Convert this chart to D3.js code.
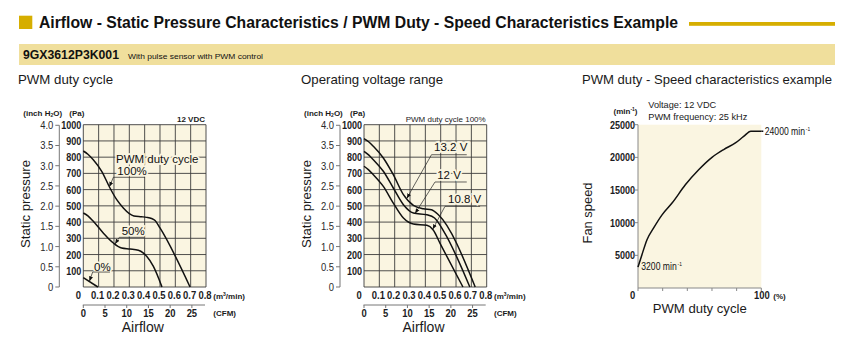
<!DOCTYPE html>
<html lang="en">
<head>
<meta charset="UTF-8">
<title>9GX3612P3K001 characteristics</title>
<script src="https://d3js.org/d3.v7.min.js"></script>
<style>
    body { margin: 0; background: #fff; }
    svg { display: block; font-family: "Liberation Sans", Arial, sans-serif; }
    .num { font-weight: bold; font-size: 11px; fill: #1b1b22; }
    .inch { font-size: 11px; fill: #2a2a2a; }
    .small { font-size: 8px; font-weight: bold; fill: #1b1b1b; }
</style>
</head>
<body>
<div id="container"></div>
<script>
// tick values
const flowTicks = [0, 0.1, 0.2, 0.3, 0.4, 0.5, 0.6, 0.7, 0.8];   // m3/min
const cfmTicks = [0, 5, 10, 15, 20, 25];
const paTicks = [100, 200, 300, 400, 500, 600, 700, 800, 900, 1000];
const inchTicks = [0, 0.5, 1.0, 1.5, 2.0, 2.5, 3.0, 3.5, 4.0];
const speedTicks = [5000, 10000, 15000, 20000, 25000];
const dutyTicks = [0, 20, 40, 60, 80, 100];

// PWM duty cycle curves [m3/min, Pa]
const pwm100 = [[0, 838], [0.03, 818], [0.065, 784], [0.12, 713], [0.174, 610], [0.218, 538], [0.261, 487],
    [0.3, 452], [0.33, 438], [0.38, 433], [0.413, 429], [0.445, 422], [0.468, 410], [0.5, 364], [0.696, 0]];
const pwm50 = [[0, 456], [0.03, 438], [0.065, 405], [0.13, 333], [0.196, 271], [0.25, 240], [0.305, 234],
    [0.359, 226], [0.39, 210], [0.413, 189], [0.457, 127], [0.513, 0]];
const pwm0 = [[0, 58], [0.095, 0]];

// operating voltage curves [m3/min, Pa]
const v132 = [[0, 914], [0.03, 895], [0.061, 867], [0.126, 795], [0.191, 692], [0.257, 569], [0.322, 503],
    [0.387, 482], [0.44, 476], [0.485, 445], [0.725, 0]];
const v120 = [[0, 836], [0.03, 814], [0.061, 784], [0.126, 713], [0.191, 610], [0.257, 507], [0.322, 456],
    [0.41, 445], [0.46, 425], [0.52, 343], [0.69, 0]];
const v108 = [[0, 744], [0.03, 722], [0.061, 692], [0.126, 620], [0.191, 517], [0.257, 425], [0.322, 388],
    [0.41, 380], [0.45, 353], [0.5, 261], [0.645, 0]];

// PWM duty - speed
const dutyPct = [0, 3.2, 7.3, 12.7, 19.5, 27.6, 38.4, 49.2, 60, 69.5, 79, 85.7, 91.5, 100];
const fanRpm = [3200, 5100, 7400, 9200, 11200, 13000, 15800, 18100, 20000, 21200, 22200, 23200, 24000, 24000];

const W = 861, H = 351;
const gold = '#d6ae00', band = '#f0df9c', plotBg = '#faf5e1';
const plotTop = 124.7, plotBottom = 287, plotW = 122.7;
const paPerInch = 249.09, cfmPerM3 = 35.315;

// narrow-font look: squeeze text to Arial Narrow-like widths
const narrowEm = { '.': 0.228, ' ': 0.228, 'm': 0.729, 'i': 0.182, 'n': 0.456 };
function narrowLen(str, size) {
    let w = 0;
    for (const c of String(str)) w += narrowEm[c] !== undefined ? narrowEm[c] : 0.456;
    return w * size;
}
function narrow(sel, size) {
    sel.attr('textLength', function () { return narrowLen(d3.select(this).text(), size); })
        .attr('lengthAdjust', 'spacingAndGlyphs');
}

const svg = d3.select('#container').append('svg').attr('width', W).attr('height', H);
svg.append('rect').attr('width', W).attr('height', H).attr('fill', '#fff');

svg.append('defs').append('marker')
    .attr('id', 'arr').attr('viewBox', '0 0 10 10').attr('refX', 10).attr('refY', 5)
    .attr('markerWidth', 5).attr('markerHeight', 5).attr('markerUnits', 'userSpaceOnUse')
    .attr('orient', 'auto')
    .append('path').attr('d', 'M0,1 L10,5 L0,9 z').attr('fill', '#111');

// header
svg.append('rect').attr('x', 19).attr('y', 15.7).attr('width', 13.3).attr('height', 13.3).attr('fill', gold);
svg.append('text').attr('x', 39).attr('y', 27.7)
    .attr('font-size', 16).attr('font-weight', 'bold').attr('fill', '#111')
    .attr('textLength', 639).attr('lengthAdjust', 'spacingAndGlyphs')
    .text('Airflow - Static Pressure Characteristics / PWM Duty - Speed Characteristics Example');
svg.append('rect').attr('x', 689).attr('y', 22).attr('width', 146).attr('height', 3.8).attr('fill', gold);
svg.append('rect').attr('x', 19).attr('y', 44).attr('width', 816).attr('height', 21).attr('fill', band);
svg.append('text').attr('x', 23).attr('y', 59.3).attr('font-size', 12.5).attr('font-weight', 'bold')
    .attr('fill', '#111').attr('textLength', 96).attr('lengthAdjust', 'spacingAndGlyphs').text('9GX3612P3K001');
svg.append('text').attr('x', 128).attr('y', 59).attr('font-size', 8).attr('fill', '#111')
    .attr('textLength', 135).attr('lengthAdjust', 'spacingAndGlyphs').text('With pulse sensor with PWM control');

// section titles
function title(x, y, txt, len, size) {
    svg.append('text').attr('x', x).attr('y', y).attr('font-size', size || 13).attr('fill', '#1a1a1a')
        .attr('textLength', len).attr('lengthAdjust', 'spacingAndGlyphs').text(txt);
}
title(18, 84, 'PWM duty cycle', 95);
title(301, 84, 'Operating voltage range', 142);
title(582, 84, 'PWM duty - Speed characteristics example', 250);

// airflow - static pressure chart
function pqChart(x0, curves, notes, corner) {
    const g = svg.append('g');
    const x = d3.scaleLinear().domain([0, 0.8]).range([x0, x0 + plotW]);
    const y = d3.scaleLinear().domain([0, 1000]).range([plotBottom, plotTop]);

    g.append('rect').attr('x', x(0)).attr('y', y(1000)).attr('width', x(0.8) - x(0))
        .attr('height', y(0) - y(1000)).attr('fill', plotBg);

    g.selectAll('.vg').data(flowTicks).enter().append('line')
        .attr('x1', d => x(d)).attr('x2', d => x(d)).attr('y1', y(0)).attr('y2', y(1000))
        .attr('stroke', '#3c3c3c').attr('stroke-width', 0.9);
    g.selectAll('.hg').data([0].concat(paTicks)).enter().append('line')
        .attr('x1', x(0)).attr('x2', x(0.8)).attr('y1', d => y(d)).attr('y2', d => y(d))
        .attr('stroke', '#3c3c3c').attr('stroke-width', 0.9);

    // Pa labels
    g.selectAll('.pa').data(paTicks).enter().append('text').attr('class', 'num')
        .attr('x', x0 - 2).attr('y', d => y(d)).attr('dy', '0.36em').attr('text-anchor', 'end')
        .text(d => d).call(narrow, 11);

    // inch H2O axis
    const ax = x0 - 24;
    g.append('line').attr('x1', ax).attr('x2', ax).attr('y1', y(0)).attr('y2', y(4 * paPerInch))
        .attr('stroke', '#777').attr('stroke-width', 1);
    g.selectAll('.it').data(inchTicks).enter().append('line')
        .attr('x1', ax - 4).attr('x2', ax).attr('y1', d => y(d * paPerInch)).attr('y2', d => y(d * paPerInch))
        .attr('stroke', '#777').attr('stroke-width', 1);
    g.selectAll('.il').data(inchTicks).enter().append('text').attr('class', 'inch')
        .attr('x', x0 - 30).attr('y', d => y(d * paPerInch)).attr('dy', '0.36em').attr('text-anchor', 'end')
        .text(d => d === 0 ? '0' : d.toFixed(1)).call(narrow, 11.5);

    const u = g.append('text').attr('class', 'small').attr('x', x0 - 60).attr('y', 116);
    u.append('tspan').text('(inch H');
    u.append('tspan').attr('font-size', 5).attr('dy', 1).text('2');
    u.append('tspan').attr('dy', -1).text('O)');
    g.append('text').attr('class', 'small').attr('x', x0 - 14).attr('y', 116).text('(Pa)');

    g.append('text').attr('transform', `translate(${x0 - 53},204) rotate(-90)`)
        .attr('text-anchor', 'middle').attr('font-size', 13.5).attr('fill', '#1a1a1a')
        .attr('textLength', 88).attr('lengthAdjust', 'spacingAndGlyphs').text('Static pressure');

    // m3/min labels
    g.selectAll('.fl').data(flowTicks).enter().append('text').attr('class', 'num')
        .attr('x', d => d === 0 ? x(d) - 5 : x(d) - 1).attr('y', 299.3).attr('text-anchor', 'middle')
        .text(d => d === 0 ? '0' : d.toFixed(1)).call(narrow, 11.5);
    const m = g.append('text').attr('class', 'small').attr('x', x0 + 130).attr('y', 299);
    m.append('tspan').text('(m');
    m.append('tspan').attr('font-size', 5).attr('dy', -3).text('3');
    m.append('tspan').attr('dy', 3).text('/min)');

    // CFM axis
    const cy = 305;
    g.append('line').attr('x1', x(0) - 0.5).attr('x2', x(0.8) - 1).attr('y1', cy).attr('y2', cy)
        .attr('stroke', '#777').attr('stroke-width', 1);
    g.selectAll('.ct').data(cfmTicks).enter().append('line')
        .attr('x1', d => x(d / cfmPerM3)).attr('x2', d => x(d / cfmPerM3)).attr('y1', cy).attr('y2', cy + 3)
        .attr('stroke', '#777').attr('stroke-width', 1);
    g.selectAll('.cl').data(cfmTicks).enter().append('text').attr('class', 'num')
        .attr('x', d => x(d / cfmPerM3)).attr('y', 316.5).attr('text-anchor', 'middle')
        .text(d => d).call(narrow, 11.5);
    g.append('text').attr('class', 'small').attr('x', x0 + 130).attr('y', 316).text('(CFM)');

    g.append('text').attr('x', x0 + 59.5).attr('y', 331.7).attr('text-anchor', 'middle')
        .attr('font-size', 14).attr('fill', '#1a1a1a').text('Airflow');

    g.append('text').attr('x', x(0.8) - 1).attr('y', 121.7).attr('text-anchor', 'end')
        .attr('font-size', 8).attr('font-weight', corner.bold ? 'bold' : 'normal').attr('fill', '#1b1b1b')
        .text(corner.text);

    // curves
    const line = d3.line().x(d => x(d[0])).y(d => y(d[1])).curve(d3.curveMonotoneX);
    g.selectAll('.curve').data(curves).enter().append('path')
        .attr('d', d => line(d)).attr('fill', 'none').attr('stroke', '#111').attr('stroke-width', 1.5);

    // labels with leaders
    notes.forEach(n => {
        g.append('text').attr('x', x(n.at[0])).attr('y', y(n.at[1]))
            .attr('font-size', 11.5).attr('fill', '#111')
            .attr('stroke', plotBg).attr('stroke-width', 3.5).attr('paint-order', 'stroke')
            .text(n.text);
        if (n.lead) {
            g.append('path').attr('d', d3.line().x(d => x(d[0])).y(d => y(d[1]))(n.lead))
                .attr('fill', 'none').attr('stroke', '#222').attr('stroke-width', 0.7)
                .attr('marker-end', 'url(#arr)');
        }
    });
}

pqChart(83.3, [pwm100, pwm50, pwm0], [
    { text: 'PWM duty cycle', at: [0.213, 764] },
    { text: '100%', at: [0.222, 690], lead: [[0.402, 676], [0.196, 676], [0.17, 617]] },
    { text: '50%', at: [0.25, 318], lead: [[0.396, 306], [0.235, 306], [0.207, 265]] },
    { text: '0%', at: [0.07, 100], lead: [[0.174, 92], [0.061, 92], [0.04, 35]] }
], { text: '12 VDC', bold: true });

pqChart(364, [v132, v120, v108], [
    { text: '13.2 V', at: [0.457, 836], lead: [[0.67, 815], [0.44, 815], [0.279, 546]] },
    { text: '12 V', at: [0.477, 665], lead: [[0.67, 647], [0.463, 647], [0.333, 453]] },
    { text: '10.8 V', at: [0.548, 518], lead: [[0.757, 497], [0.528, 497], [0.448, 356]] }
], { text: 'PWM duty cycle 100%', bold: false });

// PWM duty - speed chart
(function () {
    const g = svg.append('g');
    const x = d3.scaleLinear().domain([0, 100]).range([638, 761.3]);
    const y = d3.scaleLinear().domain([0, 25000]).range([288, 124.7]);

    g.append('rect').attr('x', x(0)).attr('y', y(25000)).attr('width', x(100) - x(0))
        .attr('height', y(0) - y(25000)).attr('fill', plotBg);
    g.append('line').attr('x1', x(0)).attr('x2', x(0)).attr('y1', y(0)).attr('y2', y(25000))
        .attr('stroke', '#888').attr('stroke-width', 1);
    g.append('line').attr('x1', x(0)).attr('x2', x(100)).attr('y1', y(0)).attr('y2', y(0))
        .attr('stroke', '#888').attr('stroke-width', 1);
    g.selectAll('.yt').data(speedTicks).enter().append('line')
        .attr('x1', x(0) - 3).attr('x2', x(0)).attr('y1', d => y(d)).attr('y2', d => y(d))
        .attr('stroke', '#888').attr('stroke-width', 1);
    g.selectAll('.xt').data(dutyTicks).enter().append('line')
        .attr('x1', d => x(d)).attr('x2', d => x(d)).attr('y1', y(0)).attr('y2', y(0) + 3)
        .attr('stroke', '#888').attr('stroke-width', 1);

    g.selectAll('.yl').data(speedTicks).enter().append('text').attr('class', 'num')
        .attr('x', x(0) - 3).attr('y', d => y(d)).attr('dy', '0.36em').attr('text-anchor', 'end')
        .text(d => d).call(narrow, 11);
    g.selectAll('.xl').data([0, 100]).enter().append('text').attr('class', 'num')
        .attr('x', d => d === 0 ? x(d) - 5.5 : x(d) + 0.5).attr('y', 299).attr('text-anchor', 'middle')
        .text(d => d).call(narrow, 11.5);
    g.append('text').attr('class', 'small').attr('x', x(100) + 12).attr('y', 299).attr('font-size', 7).text('(%)');

    const mu = g.append('text').attr('class', 'small').attr('x', 613.5).attr('y', 114.3);
    mu.append('tspan').text('(min');
    mu.append('tspan').attr('font-size', 5).attr('dy', -3).text('-1');
    mu.append('tspan').attr('dy', 3).text(')');

    g.append('text').attr('x', 648.3).attr('y', 108.3).attr('font-size', 9.2).attr('fill', '#1a1a1a').text('Voltage: 12 VDC');
    g.append('text').attr('x', 648.3).attr('y', 120).attr('font-size', 9.2).attr('fill', '#1a1a1a').text('PWM frequency: 25 kHz');

    g.append('text').attr('transform', 'translate(592,213) rotate(-90)').attr('text-anchor', 'middle')
        .attr('font-size', 13.5).attr('fill', '#1a1a1a').attr('textLength', 61)
        .attr('lengthAdjust', 'spacingAndGlyphs').text('Fan speed');
    g.append('text').attr('x', 699.7).attr('y', 313.3).attr('text-anchor', 'middle')
        .attr('font-size', 13).attr('fill', '#1a1a1a').attr('textLength', 94)
        .attr('lengthAdjust', 'spacingAndGlyphs').text('PWM duty cycle');

    const pts = dutyPct.map((d, i) => [d, fanRpm[i]]);
    g.append('path')
        .attr('d', d3.line().x(d => x(d[0])).y(d => y(d[1])).curve(d3.curveMonotoneX)(pts))
        .attr('fill', 'none').attr('stroke', '#111').attr('stroke-width', 1.5);
    // flat tail out to the 24000 label
    g.append('line').attr('x1', x(100)).attr('x2', x(100) + 2).attr('y1', y(24000)).attr('y2', y(24000))
        .attr('stroke', '#111').attr('stroke-width', 1.5);

    // "xxxx min-1", squeezed horizontally to look condensed
    function rpmLabel(px, py, val) {
        const t = g.append('text').attr('transform', `translate(${px},${py}) scale(0.82,1)`).attr('fill', '#111');
        t.append('tspan').attr('font-size', 10.5).text(val + ' min');
        t.append('tspan').attr('font-size', 6).attr('dx', 1).attr('dy', -4).text('-1');
    }
    rpmLabel(x(100) + 3.5, y(24000) + 3.8, fanRpm[fanRpm.length - 1]);
    rpmLabel(x(0) + 3.3, y(fanRpm[0]) + 2.5, fanRpm[0]);
})();
</script>
</body>
</html>
